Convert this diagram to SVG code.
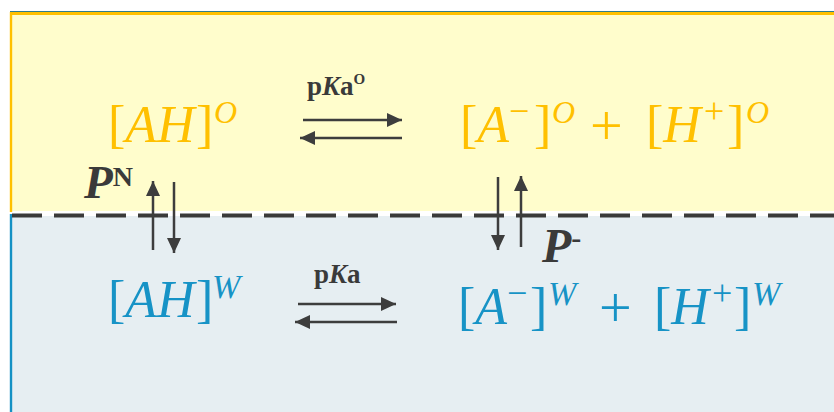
<svg xmlns="http://www.w3.org/2000/svg" width="834" height="412" viewBox="0 0 834 412">
<style>
.f{font-family:"Liberation Serif","Times New Roman",serif}
.o{fill:#FFC000}
.b{fill:#1793C6}
.m{font-size:52px}
.i{font-style:italic}
.s{font-size:32px;font-style:italic}
.sp{font-size:36px}
.pl{font-size:58px}
.lab{fill:#3a3a3a;font-weight:bold}
.ar{stroke:#3d3d3d;stroke-width:2.5;fill:none;marker-end:url(#ah)}
</style>
<defs>
<marker id="ah" markerUnits="userSpaceOnUse" markerWidth="16" markerHeight="16" viewBox="0 0 16 16" refX="15" refY="8" orient="auto">
<path d="M0,1 L15,8 L0,15 Z" fill="#3d3d3d"/>
</marker>
</defs>
<g id="background">
<rect x="0" y="0" width="834" height="412" fill="#ffffff"/>
<rect x="11" y="13" width="823" height="198" fill="#FFFDCC"/>
<rect x="11" y="216" width="823" height="196" fill="#E6EEF2"/>
<line x1="10" y1="11.5" x2="834" y2="11.5" stroke="#2E7D8E" stroke-width="1.2"/>
<line x1="10" y1="13.5" x2="834" y2="13.5" stroke="#FFC000" stroke-width="3"/>
<line x1="11" y1="12" x2="11" y2="212" stroke="#FFC000" stroke-width="2.4"/>
<line x1="11" y1="214" x2="11" y2="412" stroke="#1591C4" stroke-width="2.4"/>
<line x1="12" y1="215.5" x2="834" y2="215.5" stroke="#3a3a3a" stroke-width="4" stroke-dasharray="30 12"/>
</g>
<g id="AH_O">
<text class="f o m" y="142"><tspan x="108">[</tspan><tspan class="i">AH</tspan><tspan x="196">]</tspan><tspan class="s" x="214" dy="-19">O</tspan></text>
</g>
<g id="A_H_O">
<text class="f o m" y="142"><tspan x="460">[</tspan><tspan class="i">A</tspan><tspan class="sp" x="509" dy="-19">−</tspan><tspan x="534" dy="19">]</tspan><tspan class="s" x="552" dy="-19">O</tspan><tspan class="pl" x="590" dy="22">+</tspan><tspan x="646" dy="-3">[</tspan><tspan class="i">H</tspan><tspan class="sp" x="704" dy="-19">+</tspan><tspan x="727" dy="19">]</tspan><tspan class="s" x="746" dy="-19">O</tspan></text>
</g>
<g id="AH_W">
<text class="f b m" y="317"><tspan x="108">[</tspan><tspan class="i">AH</tspan><tspan x="196">]</tspan><tspan class="s" x="212" dy="-19" style="font-size:34px">W</tspan></text>
</g>
<g id="A_H_W">
<text class="f b m" y="324"><tspan x="458">[</tspan><tspan class="i">A</tspan><tspan class="sp" x="507" dy="-19">−</tspan><tspan x="530" dy="19">]</tspan><tspan class="s" x="548" dy="-19" style="font-size:34px">W</tspan><tspan class="pl" x="599" dy="22">+</tspan><tspan x="654" dy="-3">[</tspan><tspan class="i">H</tspan><tspan class="sp" x="712" dy="-19">+</tspan><tspan x="734" dy="19">]</tspan><tspan class="s" x="752" dy="-19" style="font-size:34px">W</tspan></text>
</g>
<g id="connectors">
<line class="ar" x1="303" y1="120" x2="402" y2="120"/>
<line class="ar" x1="402" y1="138" x2="300" y2="138"/>
<line class="ar" x1="298" y1="304" x2="396" y2="304"/>
<line class="ar" x1="397" y1="322" x2="295" y2="322"/>
<line class="ar" x1="153" y1="250" x2="153" y2="181"/>
<line class="ar" x1="174" y1="182" x2="174" y2="253"/>
<line class="ar" x1="498" y1="177" x2="498" y2="250"/>
<line class="ar" x1="521" y1="247" x2="521" y2="176"/>
</g>
<g id="labels">
<text class="f lab" x="307" y="95" style="font-size:27px">p<tspan class="i">K</tspan>a<tspan style="font-size:15px" dy="-11">O</tspan></text>
<text class="f lab" x="314" y="283" style="font-size:27px">p<tspan class="i">K</tspan>a</text>
<text class="f lab" x="84" y="198" style="font-size:47px"><tspan class="i">P</tspan><tspan style="font-size:28px" dy="-12">N</tspan></text>
<text class="f lab" x="542" y="262" style="font-size:48px"><tspan class="i">P</tspan><tspan style="font-size:30px" dy="-14">-</tspan></text>
</g>
</svg>
